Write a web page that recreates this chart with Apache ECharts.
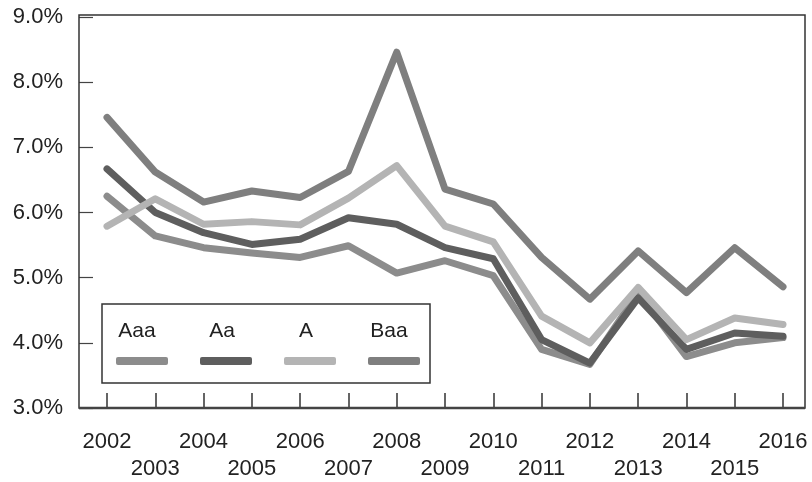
<!DOCTYPE html>
<html>
<head>
<meta charset="utf-8">
<script src="https://cdn.jsdelivr.net/npm/echarts@6/dist/echarts.min.js"></script>
<style>
  html, body { margin: 0; padding: 0; background: #fff; }
  #chart { width: 812px; height: 482px; }
</style>
</head>
<body>
<div id="chart"></div>
<script>
// yields by rating, 2002-2016 (%)
const years = [2002, 2003, 2004, 2005, 2006, 2007, 2008, 2009, 2010, 2011, 2012, 2013, 2014, 2015, 2016]
const aaa = [6.25, 5.64, 5.46, 5.38, 5.31, 5.49, 5.07, 5.26, 5.03, 3.90, 3.67, 4.77, 3.79, 4.00, 4.08]
const aa  = [6.67, 6.00, 5.69, 5.51, 5.59, 5.92, 5.82, 5.46, 5.29, 4.05, 3.69, 4.69, 3.90, 4.15, 4.10]
const a   = [5.79, 6.21, 5.82, 5.86, 5.81, 6.22, 6.72, 5.79, 5.55, 4.41, 4.00, 4.85, 4.05, 4.38, 4.28]
const baa = [7.46, 6.62, 6.16, 6.33, 6.23, 6.63, 8.46, 6.36, 6.13, 5.31, 4.67, 5.41, 4.77, 5.46, 4.86]
const names = ['Aaa', 'Aa', 'A', 'Baa']
const yTicks = [3, 4, 5, 6, 7, 8, 9]

const colors = ['#8c8c8c', '#5e5e5e', '#b4b4b4', '#7f7f7f']
const font = '"Liberation Sans", Arial, sans-serif'

const chart = echarts.init(document.getElementById('chart'))

const makeSeries = (name, vals, i) => ({
  name: name,
  type: 'line',
  data: vals.map((v, k) => [years[k], v]),
  symbol: 'none',
  clip: false,
  lineStyle: { width: 7, color: colors[i], join: 'round', cap: 'round' },
  itemStyle: { color: colors[i] },
  z: 2 + i
})

// plot frame sits a bit outside the first/last year
const boxLeft = 79, boxRight = 805, boxTop = 15, boxBottom = 408

// even years on the first label row, odd years on the second
const yearAxis = (odd) => ({
  type: 'value',
  position: 'bottom',
  min: years[0],
  max: years[years.length - 1],
  interval: 1,
  splitLine: { show: false },
  axisLine: { show: false },
  axisTick: {
    show: !odd,
    inside: true,
    length: 15,
    lineStyle: { color: '#333', width: 1.5 }
  },
  axisLabel: {
    margin: odd ? 50 : 23,
    fontSize: 22,
    fontFamily: font,
    color: '#222',
    showMinLabel: true,
    showMaxLabel: true,
    formatter: v => (v % 2 === (odd ? 1 : 0)) ? String(v) : ''
  }
})

chart.setOption({
  animation: false,
  grid: {
    left: 107,
    right: 29,
    top: 17,
    bottom: 482 - boxBottom,
    outerBoundsMode: 'none'
  },
  legend: {
    data: names,
    left: 111,
    top: 352,
    icon: 'roundRect',
    itemWidth: 52,
    itemHeight: 8,
    itemGap: 32,
    formatter: () => '',
    textStyle: { fontSize: 8 }
  },
  graphic: [
    {
      type: 'rect',
      shape: { x: boxLeft, y: boxTop, width: boxRight - boxLeft, height: boxBottom - boxTop },
      style: { fill: 'rgba(255,255,255,0)', stroke: '#333', lineWidth: 1.5 },
      silent: true,
      z: 10
    },
    {
      type: 'line',
      shape: { x1: boxLeft, y1: boxBottom, x2: boxRight, y2: boxBottom },
      style: { stroke: '#444', lineWidth: 2.5 },
      silent: true,
      z: 10
    },
    {
      type: 'rect',
      shape: { x: 102, y: 304, width: 328, height: 79 },
      style: { fill: 'rgba(255,255,255,0)', stroke: '#333', lineWidth: 1.5 },
      silent: true,
      z: 10
    },
    ...names.map((n, i) => ({
      type: 'text',
      x: [137, 222, 306, 389][i],
      y: 331,
      style: {
        text: n,
        fontSize: 21,
        fontFamily: font,
        fill: '#222',
        align: 'center',
        verticalAlign: 'middle'
      },
      z: 10
    }))
  ],
  xAxis: [yearAxis(false), yearAxis(true)],
  yAxis: {
    type: 'value',
    min: yTicks[0],
    max: yTicks[yTicks.length - 1],
    interval: 1,
    offset: 107 - boxLeft,
    splitLine: { show: false },
    axisLine: { show: false },
    axisTick: { show: true, inside: true, length: 14, lineStyle: { color: '#444', width: 1.2 } },
    axisLabel: {
      margin: 16,
      fontSize: 22,
      fontFamily: font,
      color: '#222',
      formatter: v => v.toFixed(1) + '%'
    }
  },
  series: [
    makeSeries('Aaa', aaa, 0),
    makeSeries('Aa', aa, 1),
    makeSeries('A', a, 2),
    makeSeries('Baa', baa, 3)
  ]
})
</script>
</body>
</html>
